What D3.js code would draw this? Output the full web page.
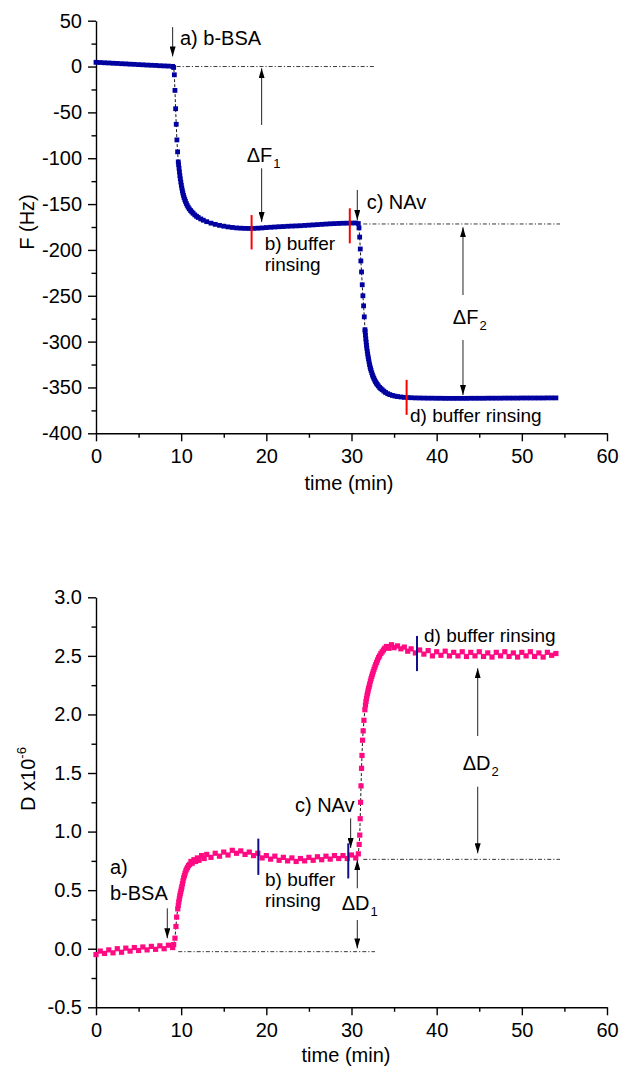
<!DOCTYPE html>
<html><head><meta charset="utf-8">
<script src="https://cdn.jsdelivr.net/npm/d3@7"></script>
<style>
body{margin:0;background:#fff}
svg{display:block}
text{font-family:"Liberation Sans",Arial,sans-serif;fill:#000}
</style>
</head><body>
<svg id="c" width="621" height="1070"></svg>
<script>
// ---------- data ----------
const timeTicks = [0,10,20,30,40,50,60];
const timeMinor = [5,15,25,35,45,55];
const fTicks = [50,0,-50,-100,-150,-200,-250,-300,-350,-400];
const fMinor = [25,-25,-75,-125,-175,-225,-275,-325,-375];
const dTicks = [3.0,2.5,2.0,1.5,1.0,0.5,0.0,-0.5];
const dMinor = [2.75,2.25,1.75,1.25,0.75,0.25,-0.25];

// frequency shift F (Hz) vs time (min)
const fData = [
[0,4.6],[0.5,4.4],[1,4.1],[1.5,3.9],[2,3.6],[2.5,3.4],[3,3.1],[3.5,2.9],[4,2.6],[4.5,2.4],
[5,2.1],[5.5,1.9],[6,1.6],[6.5,1.4],[7,1.2],[7.5,0.9],[8,0.7],[8.5,0.5],[9,0.2],[9.12,-1],
[9.2,-9],[9.27,-26],[9.35,-46],[9.42,-63],[9.5,-80],[9.58,-93],[9.66,-104],
[9.7,-107],[9.75,-111],[9.8,-115],[9.85,-119],[9.9,-122.5],[9.96,-126],[10.02,-129.5],[10.08,-132.5],
[10.14,-135.5],[10.2,-138],[10.27,-140.5],[10.34,-142.8],[10.42,-145],[10.5,-147],[10.6,-149.3],
[10.7,-151.3],[10.82,-153.3],[10.95,-155.2],[11.1,-157],[11.25,-158.6],[11.4,-160],[11.6,-161.8],
[11.8,-163.3],[12,-164.6],[12.3,-166.2],[12.6,-167.6],[13,-169.2],[13.5,-170.8],[14,-172.1],
[14.5,-173.2],[15,-174.1],[15.5,-174.9],[16,-175.5],[16.5,-176],[17,-176.3],[17.5,-176.5],
[18,-176.6],[18.5,-176.5],[19,-176.3],[19.5,-176],[20,-175.6],[20.5,-175.3],[21,-175],[21.5,-174.7],
[22,-174.5],[22.5,-174.2],[23,-174],[23.5,-173.8],[24,-173.6],[24.5,-173.3],[25,-173],[25.5,-172.7],
[26,-172.4],[26.5,-172.1],[27,-171.8],[27.5,-171.5],[28,-171.3],[28.5,-171.1],[29,-170.9],
[29.5,-170.8],[30,-170.7],[30.5,-170.6],[30.8,-171.2],[30.88,-176],
[30.96,-186],[31.03,-199],[31.1,-212],[31.18,-224],[31.26,-238],[31.34,-250],[31.42,-261],
[31.5,-273],[31.58,-287],
[31.6,-289],[31.64,-293],[31.68,-297],[31.72,-300.5],[31.76,-304],[31.8,-307],[31.85,-310.5],
[31.9,-313.5],[31.95,-316.5],[32,-319],[32.06,-322],[32.12,-325],[32.18,-327.5],[32.24,-329.5],
[32.3,-331.5],[32.38,-334],[32.46,-336.3],[32.54,-338.3],[32.62,-340],[32.72,-342],[32.82,-343.8],
[32.92,-345.3],[33.02,-346.7],[33.15,-348.3],[33.3,-350],[33.45,-351.3],[33.6,-352.5],[33.8,-354],
[34,-355.5],[34.25,-356.8],[34.5,-357.8],[34.8,-358.7],[35.1,-359.4],[35.4,-359.9],[35.8,-360.4],
[36.2,-360.8],[36.6,-361],[37,-361.2],[37.5,-361.4],[38,-361.5],[38.5,-361.6],[39,-361.7],
[39.5,-361.7],[40,-361.8],[40.5,-361.8],[41,-361.9],[41.5,-361.9],[42,-361.9],[42.5,-361.9],
[43,-361.9],[43.5,-361.9],[44,-361.8],[44.5,-361.8],[45,-361.8],[45.5,-361.8],[46,-361.7],
[46.5,-361.7],[47,-361.7],[47.5,-361.7],[48,-361.6],[48.5,-361.6],[49,-361.6],[49.5,-361.6],
[50,-361.5],[50.5,-361.5],[51,-361.5],[51.5,-361.5],[52,-361.5],[52.5,-361.5],[53,-361.4],
[53.5,-361.4],[54,-361.4]
];

// dissipation D (x10^-6) vs time (min)
const dData = [
[0,-0.05],[0.5,-0.02],[1,-0.04],[1.5,-0.01],[2,-0.035],[2.5,0],[3,-0.03],[3.5,0.005],
[4,-0.02],[4.5,0.01],[5,-0.015],[5.5,0.015],[6,-0.01],[6.5,0.02],[7,-0.005],[7.5,0.025],[8,0],
[8.5,0.03],[9,0.01],[9.12,0.035],
[9.27,0.09],[9.39,0.19],[9.47,0.27],
[9.6,0.34],[9.66,0.37],[9.72,0.4],[9.78,0.425],[9.84,0.45],[9.9,0.47],[9.96,0.49],[10.02,0.51],
[10.08,0.53],[10.15,0.555],[10.22,0.58],[10.3,0.605],[10.38,0.625],[10.46,0.645],[10.55,0.665],
[10.65,0.68],[10.75,0.695],[10.87,0.71],[11,0.72],[11.15,0.745],[11.3,0.73],[11.5,0.76],
[11.7,0.745],[11.9,0.775],[12.1,0.755],[12.4,0.795],[12.7,0.77],[13,0.805],[13.5,0.78],[14,0.815],
[14.5,0.79],[15,0.825],[15.5,0.8],[16,0.84],[16.5,0.815],[17,0.835],[17.5,0.805],[18,0.825],
[18.5,0.795],[19,0.815],[19.5,0.775],[20,0.795],[20.5,0.765],[21,0.79],[21.5,0.755],[22,0.78],
[22.5,0.75],[23,0.775],[23.5,0.745],[24,0.77],[24.5,0.75],[25,0.78],[25.5,0.755],[26,0.785],
[26.5,0.76],[27,0.79],[27.5,0.765],[28,0.795],[28.5,0.77],[29,0.795],[29.5,0.77],[30,0.8],
[30.5,0.775],[30.8,0.81],
[30.9,0.89],[30.97,0.97],[31.02,1.11],[31.07,1.25],[31.12,1.39],[31.18,1.54],[31.23,1.65],
[31.3,1.78],[31.37,1.86],[31.46,1.95],[31.57,2.04],
[31.64,2.08],[31.7,2.11],[31.76,2.135],[31.82,2.16],[31.88,2.18],[31.94,2.2],[32,2.22],[32.07,2.24],
[32.14,2.26],[32.22,2.285],[32.3,2.305],[32.38,2.325],[32.46,2.345],[32.55,2.365],[32.64,2.385],
[32.74,2.405],[32.84,2.425],[32.95,2.445],[33.06,2.465],[33.18,2.485],[33.3,2.5],[33.45,2.52],
[33.6,2.535],[33.75,2.55],[33.9,2.565],[34.1,2.58],[34.4,2.565],[34.7,2.595],[35,2.57],[35.4,2.585],
[35.8,2.56],[36.2,2.575],[36.6,2.54],[37,2.56],[37.5,2.525],[38,2.55],[38.5,2.515],[39,2.545],
[39.5,2.5],[40,2.535],[40.5,2.505],[41,2.54],[41.5,2.5],[42,2.53],[42.5,2.5],[43,2.535],
[43.5,2.495],[44,2.53],[44.5,2.5],[45,2.535],[45.5,2.495],[46,2.525],[46.5,2.49],[47,2.53],
[47.5,2.5],[48,2.535],[48.5,2.495],[49,2.525],[49.5,2.49],[50,2.53],[50.5,2.5],[51,2.535],
[51.5,2.495],[52,2.525],[52.5,2.49],[53,2.53],[53.5,2.505],[54,2.52]
];

// annotations (data units)
const fArrows = [{t:9.0,from:43,to:11},{t:19.45,from:-63.7,to:-1.9},{t:19.45,from:-111,to:-169.5},
                 {t:30.68,from:-134.6,to:-167.4},{t:43.09,from:-249.2,to:-175.3},{t:43.09,from:-298.2,to:-358.2}];
const fGuides = [{t0:9.47,t1:32.76,v:0},{t0:31.38,t1:54.48,v:-171.7}];
const fRinse = [{t:18.27,lo:-199.5,hi:-162},{t:29.8,lo:-192.8,hi:-154.6},{t:36.47,lo:-379.9,hi:-341.7}];
const fLabels = [{t:9.86,v:23.5,text:"a) b-BSA",k:"big"},{t:19.8,v:-200,text:"b) buffer",k:"small"},
                 {t:19.8,v:-223.5,text:"rinsing",k:"small"},{t:31.78,v:-155.7,text:"c) NAv",k:"big"},
                 {t:36.87,v:-387.3,text:"d) buffer rinsing",k:"small"}];
const fDeltas = [{t:17.7,v:-104,main:"ΔF",sub:"1"},{t:41.9,v:-280.8,main:"ΔF",sub:"2"}];

const dArrows = [{t:8.37,from:0.345,to:0.089},{t:29.9,from:1.113,to:0.86},{t:30.68,from:0.516,to:0.757},
                 {t:30.68,from:0.245,to:0.003},{t:44.82,from:1.816,to:2.394},{t:44.82,from:1.383,to:0.815}];
const dGuides = [{t0:9.66,t1:32.76,v:-0.025},{t0:31.38,t1:54.48,v:0.763}];
const dRinse = [{t:19.06,lo:0.63,hi:0.94},{t:29.62,lo:0.60,hi:0.90},{t:37.69,lo:2.37,hi:2.67}];
const dLabels = [{t:1.64,v:0.64,text:"a)",k:"big"},{t:1.64,v:0.416,text:"b-BSA",k:"big"},
                 {t:19.84,v:0.535,text:"b) buffer",k:"small"},{t:19.84,v:0.356,text:"rinsing",k:"small"},
                 {t:23.36,v:1.17,text:"c) NAv",k:"big"},{t:38.51,v:2.621,text:"d) buffer rinsing",k:"small"}];
const dDeltas = [{t:28.85,v:0.331,main:"ΔD",sub:"1"},{t:43.05,v:1.526,main:"ΔD",sub:"2"}];

// ---------- drawing ----------
const svg = d3.select("#c");
const L = 96, R = 607;
const x = d3.scaleLinear().domain([0,60]).range([L,R]);
const yF = d3.scaleLinear().domain([-400,50]).range([433.3,20.7]);
const yD = d3.scaleLinear().domain([-0.5,3]).range([1007.3,597.3]);

const defs = svg.append("defs");
defs.append("marker").attr("id","ah").attr("viewBox","0 0 10 6")
  .attr("refX",10).attr("refY",3).attr("markerWidth",10).attr("markerHeight",6)
  .attr("markerUnits","userSpaceOnUse").attr("orient","auto")
  .append("path").attr("d","M0,0L10,3L0,6Z").attr("fill","#000");

function drawPanel(y, ticks, minor, fmt, data, color, sz, arrows, guides, rinse, rinseColor, labels, deltas) {
  const g = svg.append("g");
  const y0 = y.range()[0];
  g.append("g").attr("transform",`translate(0,${y0})`)
    .call(d3.axisBottom(x).tickValues(timeTicks).tickSize(8).tickPadding(8).tickSizeOuter(0).tickFormat(d=>d));
  g.append("g").attr("transform",`translate(0,${y0})`)
    .call(d3.axisBottom(x).tickValues(timeMinor).tickSize(4.5).tickSizeOuter(0).tickFormat(""))
    .select(".domain").remove();
  g.append("g").attr("transform",`translate(${L},0)`)
    .call(d3.axisLeft(y).tickValues(ticks).tickSize(8).tickPadding(6).tickSizeOuter(0).tickFormat(fmt));
  g.append("g").attr("transform",`translate(${L},0)`)
    .call(d3.axisLeft(y).tickValues(minor).tickSize(4.5).tickSizeOuter(0).tickFormat(""))
    .select(".domain").remove();
  g.selectAll(".domain, .tick line").attr("stroke","#000").attr("stroke-width",1.4);
  g.selectAll(".tick text").attr("font-size",20).attr("font-family",'"Liberation Sans",Arial,sans-serif').attr("fill","#000");

  g.selectAll(null).data(guides).enter().append("line")
    .attr("x1",d=>x(d.t0)).attr("x2",d=>x(d.t1)).attr("y1",d=>y(d.v)).attr("y2",d=>y(d.v))
    .attr("stroke","#222").attr("stroke-width",0.9).attr("stroke-dasharray","4,2,1.2,2");

  g.append("path").datum(data)
    .attr("d",d3.line().x(d=>x(d[0])).y(d=>y(d[1])))
    .attr("fill","none").attr("stroke","#000").attr("stroke-width",0.9).attr("stroke-dasharray","3,2");
  g.selectAll(null).data(data).enter().append("rect")
    .attr("x",d=>x(d[0])-sz/2).attr("y",d=>y(d[1])-sz/2).attr("width",sz).attr("height",sz)
    .attr("fill",color);

  g.selectAll(null).data(rinse).enter().append("line")
    .attr("x1",d=>x(d.t)).attr("x2",d=>x(d.t)).attr("y1",d=>y(d.lo)).attr("y2",d=>y(d.hi))
    .attr("stroke",rinseColor).attr("stroke-width",2);

  g.selectAll(null).data(arrows).enter().append("line")
    .attr("x1",d=>x(d.t)).attr("x2",d=>x(d.t)).attr("y1",d=>y(d.from)).attr("y2",d=>y(d.to))
    .attr("stroke","#222").attr("stroke-width",1).attr("marker-end","url(#ah)");

  g.selectAll(null).data(labels).enter().append("text")
    .attr("x",d=>x(d.t)).attr("y",d=>y(d.v))
    .attr("font-size",d=>d.k==="big"?20:19).text(d=>d.text);

  const dt = g.selectAll(null).data(deltas).enter().append("text")
    .attr("x",d=>x(d.t)).attr("y",d=>y(d.v)).attr("font-size",20);
  dt.append("tspan").text(d=>d.main);
  dt.append("tspan").attr("dx",1).attr("dy",6).attr("font-size",13).text(d=>d.sub);
}

drawPanel(yF, fTicks, fMinor, d=>String(d), fData, "#0000a0", 4.8,
          fArrows, fGuides, fRinse, "#ff0000", fLabels, fDeltas);
drawPanel(yD, dTicks, dMinor, d=>d.toFixed(1), dData, "#ff0a82", 5.2,
          dArrows, dGuides, dRinse, "#10108a", dLabels, dDeltas);

svg.append("text").attr("x",349).attr("y",490).attr("text-anchor","middle").attr("font-size",20).text("time (min)");
svg.append("text").attr("x",346).attr("y",1062).attr("text-anchor","middle").attr("font-size",20).text("time (min)");
svg.append("text").attr("transform","translate(34,222) rotate(-90)").attr("text-anchor","middle")
  .attr("font-size",20).text("F (Hz)");
const dl = svg.append("text").attr("transform","translate(35,779) rotate(-90)").attr("text-anchor","middle")
  .attr("font-size",20);
dl.append("tspan").text("D x10");
dl.append("tspan").attr("dy",-9).attr("font-size",13).text("-6");
</script>
</body></html>
